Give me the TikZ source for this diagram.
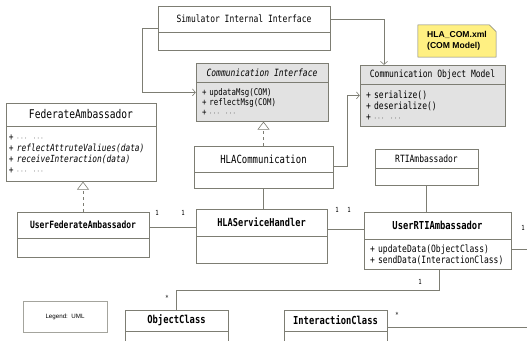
\documentclass[tikz,border=0pt]{standalone}
\usepackage{fontspec}
\setmonofont{DejaVu Sans Mono}[FakeStretch=0.8]
\setsansfont{Liberation Sans}
\usetikzlibrary{arrows.meta,positioning,backgrounds}
\definecolor{umlline}{RGB}{125,125,115}
\definecolor{umlfill}{RGB}{226,226,226}
\definecolor{notefill}{RGB}{255,240,130}
\tikzstyle{clshead}=[draw=umlline,fill=white,inner sep=0pt,font=\ttfamily\fontsize{10}{11}\selectfont]
\tikzstyle{clsbody}=[draw=umlline,fill=white,inner ysep=0pt,inner xsep=6pt,align=left,font=\ttfamily\fontsize{10}{11}\selectfont]
\tikzstyle{dep}=[draw=umlline,line width=0.6pt,-{Straight Barb[length=3pt,width=7pt]}]
\tikzstyle{realize}=[draw=umlline,line width=0.6pt,dashed,-{Triangle[open,length=8pt,width=12pt,fill=white]}]
\tikzstyle{assoc}=[draw=umlline,line width=0.6pt]
\tikzstyle{mult}=[font=\ttfamily\fontsize{7}{7}\selectfont,inner sep=0pt]
\newcommand{\dotsmore}{+ {\footnotesize$\cdots$} \ {\footnotesize$\cdots$}}

\begin{document}
\begin{tikzpicture}[x=1pt,y=-1pt]
    \clip (0,0) rectangle (527,340);
    % classes: header node, then body node below it
    \node[clshead,minimum width=172pt,minimum height=26pt] (sii) at (244,19) {Simulator Internal Interface};
    \node[clsbody,text width=160pt,minimum height=18pt,below=0pt of sii] (siib) {};

    \node[clshead,fill=umlfill,minimum width=132pt,minimum height=19pt,font=\ttfamily\itshape\fontsize{10}{11}\selectfont] (ci) at (262,72.5) {Communication Interface};
    \node[clsbody,fill=umlfill,text width=120pt,minimum height=39pt,below=0pt of ci,font=\ttfamily\fontsize{9.2}{10}\selectfont] (cib)
        {+ updataMsg(COM)\\+ reflectMsg(COM)\\\dotsmore};

    \node[clshead,fill=umlfill,minimum width=145pt,minimum height=19pt] (com) at (432.5,74.5) {Communication Object Model};
    \node[clsbody,fill=umlfill,text width=133pt,minimum height=42pt,below=0pt of com] (comb)
        {+ serialize()\\+ deserialize()\\\dotsmore};

    \node[clshead,minimum width=150pt,minimum height=23pt,font=\ttfamily\fontsize{12}{13}\selectfont] (fed) at (81,114.5) {FederateAmbassador};
    \node[clsbody,inner xsep=3pt,text width=144pt,minimum height=55pt,below=0pt of fed,font=\ttfamily\itshape\fontsize{9.8}{11}\selectfont] (fedb)
        {\dotsmore\\+ reflectAttruteValiues(data)\\+ receiveInteraction(data)\\\dotsmore};

    \node[clshead,minimum width=139pt,minimum height=26pt,font=\ttfamily\fontsize{11.2}{12}\selectfont] (hlac) at (263.5,159) {HLACommunication};
    \node[clsbody,text width=127pt,minimum height=16pt,below=0pt of hlac] (hlacb) {};

    \node[clshead,minimum width=103pt,minimum height=19pt] (rti) at (426.5,158.5) {RTIAmbassador};
    \node[clsbody,text width=91pt,minimum height=17pt,below=0pt of rti] (rtib) {};

    \node[clshead,minimum width=132pt,minimum height=26pt,font=\ttfamily\bfseries\fontsize{10}{11}\selectfont] (ufed) at (83,225) {UserFederateAmbassador};
    \node[clsbody,text width=120pt,minimum height=19pt,below=0pt of ufed] (ufedb) {};

    \node[clshead,minimum width=131pt,minimum height=27pt,font=\ttfamily\bfseries\fontsize{10.8}{12}\selectfont] (hsh) at (261.5,222.5) {HLAServiceHandler};
    \node[clsbody,text width=119pt,minimum height=27pt,below=0pt of hsh] (hshb) {};

    \node[clshead,minimum width=147pt,minimum height=27pt,font=\ttfamily\bfseries\fontsize{11}{12}\selectfont] (urti) at (437.5,225.5) {UserRTIAmbassador};
    \node[clsbody,text width=135pt,minimum height=30pt,below=0pt of urti] (urtib)
        {+ updateData(ObjectClass)\\+ sendData(InteractionClass)};

    \node[clshead,minimum width=103pt,minimum height=21pt,font=\ttfamily\bfseries\fontsize{11}{12}\selectfont] (obj) at (176.5,320.5) {ObjectClass};
    \node[clsbody,text width=91pt,minimum height=20pt,below=0pt of obj] (objb) {};

    \node[clshead,minimum width=103pt,minimum height=21pt,font=\ttfamily\bfseries\fontsize{11}{12}\selectfont] (inter) at (335.5,320.5) {InteractionClass};
    \node[clsbody,text width=91pt,minimum height=20pt,below=0pt of inter] (interb) {};

    % note and legend
    \node[minimum width=78pt,minimum height=32pt,inner xsep=4pt,align=left,font=\sffamily\bfseries\fontsize{8.6}{11}\selectfont] (note) at (457,41)
        {HLA\_COM.xml\\(COM Model)};
    \begin{pgfonlayer}{background}
        \draw[umlline,fill=notefill,line width=0.5pt] (note.south west) -- (note.north west) -- ([xshift=-7pt]note.north east)
            -- ([yshift=-7pt]note.north east) -- (note.south east) -- cycle;
    \end{pgfonlayer}
    \node[draw=umlline!70,minimum width=84pt,minimum height=31pt,font=\sffamily\fontsize{6.2}{7}\selectfont] (legend) at (65,316.5) {Legend:\ \ UML};

    % dependencies
    \draw[dep] ([yshift=-9pt]sii.west) -- ++(-16,0) |- ([yshift=9.5pt]cib.west);
    \draw[dep] (sii.east) -| ([xshift=-48.5pt]com.north);
    \draw[dep] ([yshift=-7pt]hlac.east) -- ++(14,0) |- ([yshift=10pt]comb.west);
    % realizations
    \draw[realize] (hlac.north) -- (hlac.north |- cib.south);
    \draw[realize] (ufed.north) -- (ufed.north |- fedb.south);
    % associations
    \draw[assoc] (hlacb.south) -- (hlacb.south |- hsh.north);
    \draw[assoc] (rtib.south) -- (rtib.south |- urti.north);
    \draw[assoc] ([yshift=-2pt]ufed.east) -- ([yshift=-2pt]ufed.east -| hsh.west);
    \draw[assoc] ([yshift=-3.5pt]urti.west) -- ([yshift=-3.5pt]urti.west -| hsh.east);
    \draw[assoc] ([xshift=1.5pt]urtib.south) -- ++(0,21) -| (obj.north);
    \coordinate (offA) at (530,249);
    \coordinate (offB) at (530,327);
    \draw[assoc] (urtib.east |- offA) -- (offA);
    \draw[assoc] (inter.east |- offB) -- (offB);
    % multiplicities
    \node[mult] (m1) at (157,213) {1};
    \node[mult] (m2) at (183,213) {1};
    \node[mult] (m3) at (337,210) {1};
    \node[mult] (m4) at (349,210) {1};
    \node[mult] (m5) at (523,228) {1};
    \node[mult] (m6) at (420,282) {1};
    \node[mult] (m7) at (167,298) {*};
    \node[mult] (m8) at (397,315) {*};
\end{tikzpicture}
\end{document}
